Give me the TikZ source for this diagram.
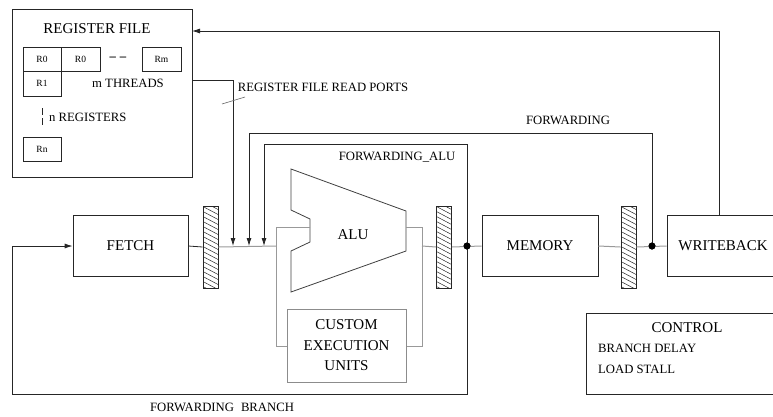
\documentclass[tikz,border=0pt]{standalone}
\usepackage{fontspec}
\setmainfont{Liberation Serif}
\usetikzlibrary{arrows.meta,calc}
\begin{document}
\begin{tikzpicture}[x=1pt,y=-1pt,
  blockbox/.style={draw=black!85, line width=0.8pt, rectangle, inner sep=0pt, align=center, font=\fontsize{15}{20.5}\selectfont},
  gbox/.style={blockbox, draw=black!45, line width=1pt},
  reg/.style={draw=black!85, line width=0.7pt, rectangle, inner sep=0pt, minimum width=38pt, minimum height=24pt, font=\fontsize{9.5}{11}\selectfont},
  latch/.style={draw=black!85, line width=0.8pt, rectangle, inner sep=0pt, minimum width=15pt, minimum height=82pt,
    path picture={\foreach \k in {0,...,20}{\draw[black!85, line width=0.5pt] ($(path picture bounding box.north west)+(-1,{5*\k-10})$) -- ++(17,9);}}},
  wire/.style={draw=black!85, line width=0.8pt},
  gwire/.style={draw=black!40, line width=1pt},
  arr/.style={wire, -{Latex[length=8pt,width=5pt]}},
  lbl/.style={inner sep=0pt, font=\fontsize{12.7}{15}\selectfont},
  big/.style={inner sep=0pt, font=\fontsize{15}{18}\selectfont},
  jdot/.style={circle, fill=black, inner sep=0pt, minimum size=7pt},
]
\useasboundingbox (0,0) rectangle (773,416);
\clip (0,0) rectangle (773,416);

% register file
\node[blockbox, minimum width=180pt, minimum height=168pt] (rf) at (102,93) {};
\node[big] (rftitle) at (97,29) {REGISTER FILE};
\node[reg] (r0a) at (42,59) {R0};
\node[reg, minimum width=39pt] (r0b) at (80.5,59) {R0};
\node[reg, minimum width=39pt] (rm) at (161.5,59) {Rm};
\node[reg, minimum height=25pt] (r1) at (42,83.5) {R1};
\node[reg] (rn) at (42,149) {Rn};
\node[lbl, font=\fontsize{12.7}{15}\selectfont\bfseries] (dashes) at (118,59) {\textendash\hspace{4pt}\textendash};
\node[lbl] (mthr) at (128,83) {m THREADS};
\node[lbl, anchor=west] (nreg) at (49,117) {n REGISTERS};
\draw[black!85, line width=0.9pt] (42,108) -- (42,115) (42,118) -- (42,124.5);

% pipeline blocks
\node[blockbox, minimum width=115pt, minimum height=61pt] (fetch) at (130.5,246) {FETCH};
\node[latch] (h1) at (210.5,247) {};
\node[latch] (h2) at (444,247) {};
\node[latch] (h3) at (628.5,247) {};
\node[blockbox, minimum width=116pt, minimum height=61pt] (mem) at (540,246) {MEMORY};
\node[blockbox, minimum width=112pt, minimum height=61pt] (wb) at (723,246) {WRITEBACK};
\node[gbox, minimum width=119pt, minimum height=73pt] (custom) at (346.5,345.5) {CUSTOM\\EXECUTION\\UNITS};

% ALU
\draw[draw=black!75, line width=0.8pt] (291,169) -- (291,210) -- (310,219) -- (310,242) -- (291,251) -- (291,292) -- (406,251) -- (406,211) -- cycle;
\node[big] (alulbl) at (353,235) {ALU};

% control
\node[blockbox, minimum width=202pt, minimum height=81pt] (ctrl) at (687,353.5) {};
\node[big] (ctrltitle) at (687,328) {CONTROL};
\node[lbl, anchor=west] (bd) at (598,348) {BRANCH DELAY};
\node[lbl, anchor=west] (ls) at (598,369) {LOAD STALL};

% coordinates
\coordinate (sqTL) at (276,227);
\coordinate (sqML) at (276,246);
\coordinate (sqBL) at (276,346);
\coordinate (sqTR) at (422,227);
\coordinate (sqMR) at (422,246);
\coordinate (sqBR) at (422,346);
\coordinate (aluin) at (310,227);
\coordinate (aluout) at (406,227);
\coordinate (p1) at (233,246);
\coordinate (p2) at (249,246);
\coordinate (p3) at (264,246);
\node[jdot] (d1) at (467,246) {};
\node[jdot] (d2) at (652,246) {};

% gray datapath
\draw[gwire] (h1.east) -- (sqML);
\draw[gwire] (aluin) -- (sqTL) -- (sqBL) -- (custom.west |- sqBL);
\draw[gwire] (aluout) -- (sqTR) -- (sqBR) -- (custom.east |- sqBR);
\draw[gwire] (sqMR) -- (h2.west);
\draw[gwire] (h2.east) -- (mem.west);
\draw[gwire] (mem.east) -- (h3.west);
\draw[gwire] (h3.east) -- (wb.west);

% black wires
\draw[wire] (fetch.east) -- (h1.west);
\coordinate (rfp) at (192,80);
\coordinate (rfpc) at (233,80);
\draw[arr] (rfp) -- (rfpc) -- (p1);
\draw[black!60, line width=0.6pt] (222,104) -- (245,97);
\node[lbl] (rfrp) at (323,87) {REGISTER FILE READ PORTS};

\coordinate (fR) at (652,133);
\coordinate (fL) at (249,133);
\draw[arr] (d2.center) -- (fR) -- (fL) -- (p2);
\node[lbl] (fwd) at (568,120) {FORWARDING};

\coordinate (faR) at (467,144);
\coordinate (faL) at (264,144);
\draw[arr] (d1.center) -- (faR) -- (faL) -- (p3);
\node[lbl] (fwdalu) at (397,157) {FORWARDING\_ALU};

\coordinate (fbR) at (467,394);
\coordinate (fbL) at (12,394);
\coordinate (fbU) at (12,246);
\draw[arr] (d1.center) -- (fbR) -- (fbL) -- (fbU) -- (fetch.west);
\node[lbl] (fwdbr) at (222,407) {FORWARDING\hspace{7pt}BRANCH};

\coordinate (wbt) at (719,215);
\coordinate (wbtop) at (719,31);
\coordinate (rftop) at (192,31);
\draw[arr] (wbt) -- (wbtop) -- (rftop);

\node[jdot] at (d1) {};
\node[jdot] at (d2) {};
\end{tikzpicture}
\end{document}
